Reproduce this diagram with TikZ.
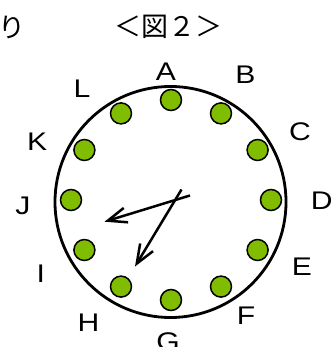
\documentclass[tikz,border=0pt]{standalone}
\usepackage{fontspec}
\setmainfont[FakeStretch=1.18]{Liberation Sans}
\newfontfamily\jpfont{Noto Sans CJK JP}
\usetikzlibrary{arrows.meta}
\definecolor{dotgreen}{HTML}{80BC00}
\tikzset{
  lbl/.style={inner sep=0pt, font=\fontsize{25.5}{25.5}\selectfont},
  dotnode/.style={circle, draw=black, line width=1.5pt, fill=dotgreen, minimum size=21pt, inner sep=0pt},
  hand/.style={line width=2.5pt, -{Straight Barb[length=19pt,width=15pt]}},
  ttl/.style={inner sep=0pt, font=\jpfont\fontsize{27}{27}\selectfont}
}
\begin{document}
\begin{tikzpicture}[x=1pt,y=-1pt]
\useasboundingbox (0,0) rectangle (336,347);
% title
\node[ttl] (t1) at (12,27) {り};
\node[ttl] (t2) at (168,27) {＜図２＞};
% face
\node[circle, draw=black, line width=2.8pt, minimum size=231pt, inner sep=0pt] (face) at (170.5,202) {};
% dots
\foreach \n/\a in {A/0,B/30,C/60,D/90,E/120,F/150,G/180,H/210,I/240,J/270,K/300,L/330}{
  \node[dotnode] (d\n) at ({171+100*sin(\a)},{200-100*cos(\a)}) {};
}
% labels
\node[lbl] (lA) at (166,72) {A};
\node[lbl] (lB) at (245.5,74.5) {B};
\node[lbl] (lC) at (300,132) {C};
\node[lbl] (lD) at (321.7,200.8) {D};
\node[lbl] (lE) at (302,267) {E};
\node[lbl] (lF) at (246,315.5) {F};
\node[lbl] (lG) at (168,342) {G};
\node[lbl] (lH) at (88.5,322.5) {H};
\node[lbl] (lI) at (40.7,274) {I};
\node[lbl] (lJ) at (22.8,205.8) {J};
\node[lbl] (lK) at (37.2,142) {K};
\node[lbl] (lL) at (82,89) {L};
% hands
\coordinate (hT) at (190,195.5);
\coordinate (hH) at (104.5,221.7);
\coordinate (mT) at (181.5,189.5);
\coordinate (mH) at (135,266.5);
\draw[hand] (hT) -- (hH);
\draw[hand] (mT) -- (mH);
\end{tikzpicture}
\end{document}
